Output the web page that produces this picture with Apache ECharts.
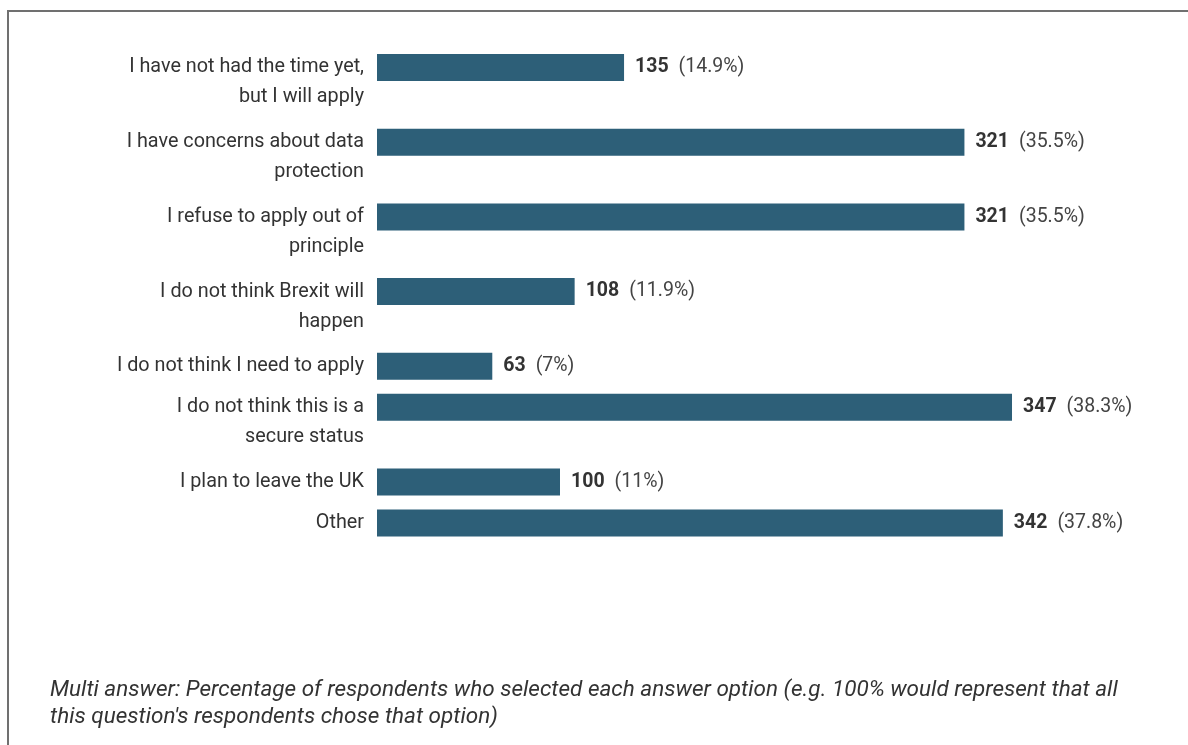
<!DOCTYPE html>
<html><head><meta charset="utf-8">
<script src="https://cdn.jsdelivr.net/npm/echarts@6/dist/echarts.min.js"></script>
<style>html,body{margin:0;padding:0;background:#fff}#c{width:1188px;height:745px}</style>
</head><body><div id="c"></div>
<script>
const categories = [
  "I have not had the time yet,\nbut I will apply",
  "I have concerns about data\nprotection",
  "I refuse to apply out of\nprinciple",
  "I do not think Brexit will\nhappen",
  "I do not think I need to apply",
  "I do not think this is a\nsecure status",
  "I plan to leave the UK",
  "Other"
];
const counts = [135, 321, 321, 108, 63, 347, 100, 342];
const percents = ["14.9%", "35.5%", "35.5%", "11.9%", "7%", "38.3%", "11%", "37.8%"];
const caption = "Multi answer: Percentage of respondents who selected each answer option (e.g. 100% would represent that all\nthis question's respondents chose that option)";

const chart = echarts.init(document.getElementById('c'));
const LEFT = 377, BAR_H = 27, FIRST_TOP = 54, XMAX = 400;
const plotWidth = 1.83 * XMAX;
const grids = [], xAxes = [], yAxes = [], series = [];
let rowTop = FIRST_TOP;
categories.forEach((cat, i) => {
  const lines = cat.split('\n').length;
  grids.push({left: LEFT, top: rowTop, width: plotWidth, height: BAR_H});
  rowTop += lines === 2 ? 74.7 : 41;
  xAxes.push({gridIndex: i, type: 'value', min: 0, max: XMAX, show: false});
  yAxes.push({gridIndex: i, type: 'category', data: [cat],
    axisLine: {show: false}, axisTick: {show: false}, splitLine: {show: false},
    axisLabel: {margin: 13, fontFamily: 'Roboto', fontSize: 19.8, color: '#333',
      lineHeight: 30, align: 'right',
      formatter: v => v.indexOf('\n') >= 0 ? '\n' + v : v}
  });
  series.push({type: 'bar', xAxisIndex: i, yAxisIndex: i, barWidth: BAR_H,
    data: [counts[i]], silent: true,
    itemStyle: {color: '#2d5f78'},
    label: {show: true, position: 'right', distance: 11,
      formatter: '{b|' + counts[i] + '}{n|(' + percents[i] + ')}',
      rich: {
        b: {fontFamily: 'Roboto', fontWeight: 'bold', fontSize: 19.5, color: '#333', padding: [0, 10, 0, 0]},
        n: {fontFamily: 'Roboto', fontSize: 19.5, color: '#444'}
      }}
  });
});
chart.setOption({
  animation: false,
  grid: grids, xAxis: xAxes, yAxis: yAxes, series: series,
  graphic: [
    {type: 'polyline', shape: {points: [[8, 745], [8, 11], [1188, 11]]},
     style: {stroke: '#707070', lineWidth: 2, fill: null}},
    {type: 'text', left: 50, top: 677,
     style: {text: caption, fontFamily: 'Roboto', fontStyle: 'italic', fontSize: 22.5,
       lineHeight: 27, fill: '#333'}}
  ]
});
</script></body></html>
